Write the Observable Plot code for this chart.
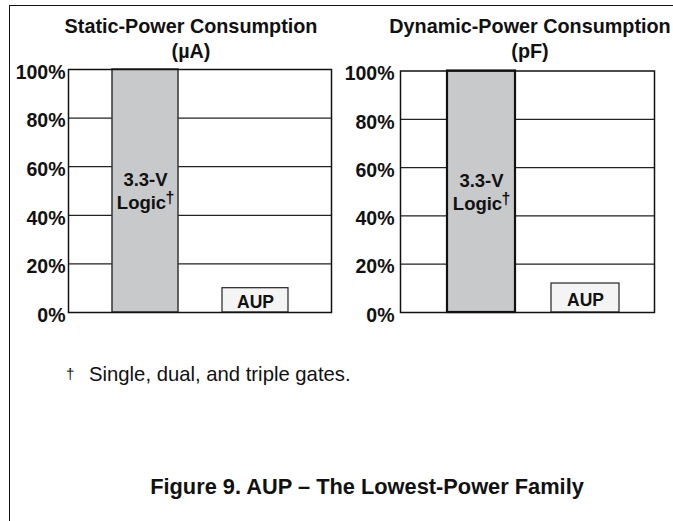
<!DOCTYPE html>
<html><head><meta charset="utf-8">
<script src="https://cdn.jsdelivr.net/npm/d3@7"></script>
<script src="https://cdn.jsdelivr.net/npm/@observablehq/plot@0.6"></script>
<style>
body{margin:0;background:#fff;}
#page{position:relative;width:673px;height:521px;overflow:hidden;font-family:"Liberation Sans",Arial,Helvetica,sans-serif;color:#111;background:#fff}
.border-top{position:absolute;left:9px;top:5px;width:670px;height:0;border-top:1.5px solid #111}
.border-left{position:absolute;left:9px;top:5px;width:0;height:530px;border-left:1.5px solid #111}
.title{position:absolute;top:13.5px;transform:translateX(-50%);white-space:nowrap;font-weight:bold;font-size:19.8px;line-height:25px;text-align:center}
.panel{position:absolute;top:0}
.panel svg{overflow:visible}
.fn-dagger{position:absolute;left:66px;top:366px;font-size:15px;line-height:15px}
.fn-text{position:absolute;left:89px;top:363.5px;font-size:20.3px;line-height:20.3px;white-space:nowrap}
.caption{position:absolute;left:367px;top:475.5px;transform:translateX(-50%);white-space:nowrap;font-weight:bold;font-size:21.8px;line-height:21.8px}
</style></head>
<body><div id="page">
<div class="border-top"></div><div class="border-left"></div>
<div class="title" id="t0" style="left:191px"></div>
<div class="title" id="t1" style="left:530px"></div>
<div class="panel" id="p0" style="left:0px"></div>
<div class="panel" id="p1" style="left:330px"></div>
<div class="fn-dagger">†</div>
<div class="fn-text" id="fn"></div>
<div class="caption" id="cap"></div>
</div>
<script>
const categories = ["3.3-V Logic", "AUP"];
const staticValues = [100, 10];
const dynamicValues = [100, 12];
const panelTitles = ["Static-Power Consumption", "Dynamic-Power Consumption"];
const panelUnits = ["(µA)", "(pF)"];
const yTicks = [0, 20, 40, 60, 80, 100];
const footnote = "Single, dual, and triple gates.";
const caption = "Figure 9. AUP – The Lowest-Power Family";

const FONT = '"Liberation Sans", Arial, Helvetica, sans-serif';

function panel(values, o) {
  const data = categories.map((c, i) => ({category: c, value: values[i]}));
  const [line1, line2] = categories[0].split(" ");
  const main = data.filter(d => d.category === categories[0]);
  const aup = data.filter(d => d.category === categories[1]);
  const mid = d => d.value / 2;
  return Plot.plot({
    width: o.width, height: 330,
    marginLeft: o.marginLeft, marginRight: o.marginRight, marginTop: o.marginTop, marginBottom: 18,
    style: {fontFamily: FONT, background: "transparent", color: "#111"},
    x: {domain: categories, paddingInner: o.paddingInner, paddingOuter: o.paddingOuter, align: o.align, axis: null},
    y: {domain: [0, 100], axis: null},
    marks: [
      Plot.ruleY(yTicks.filter(t => t > 0 && t < 100), {stroke: "#222", strokeWidth: 1.3}),
      Plot.barY(main, {x: "category", y: "value", fill: "#c8c9cb", stroke: o.barStrokeColor, strokeWidth: o.barStroke}),
      Plot.barY(aup, {x: "category", y: "value", fill: "#f4f4f4", stroke: "#222", strokeWidth: 1.2}),
      Plot.frame({stroke: "#111", strokeWidth: 1.5}),
      Plot.axisY({ticks: yTicks, tickFormat: d => `${d}%`, tickSize: 0, tickPadding: o.tickPadding,
        fontSize: 19.5, fontWeight: "bold", fill: "#111", dy: 3, label: null}),
      Plot.text(main, {x: "category", y: mid, text: () => line1, lineAnchor: "bottom", dy: -5, fontSize: 18.5, fontWeight: "bold", fill: "#111"}),
      Plot.text(main, {x: "category", y: mid, text: () => line2, lineAnchor: "bottom", dy: 18, dx: -4, fontSize: 18.5, fontWeight: "bold", fill: "#111"}),
      Plot.text(main, {x: "category", y: mid, text: () => "†", lineAnchor: "bottom", textAnchor: "start", dy: 12, dx: 20, fontSize: 16, fontWeight: "bold", fill: "#111"}),
      Plot.text(aup, {x: "category", y: mid, text: "category", dy: 2, fontSize: 17.5, fontWeight: "bold", fill: "#111"})
    ]
  });
}

document.getElementById("t0").innerHTML = panelTitles[0] + "<br>" + panelUnits[0];
document.getElementById("t1").innerHTML = panelTitles[1] + "<br>" + panelUnits[1];
document.getElementById("fn").textContent = footnote;
document.getElementById("cap").textContent = caption;

document.getElementById("p0").append(panel(staticValues, {
  width: 340, marginLeft: 68, marginRight: 9, marginTop: 69,
  paddingInner: 0.4, paddingOuter: 0.385, align: 0.5, tickPadding: 3,
  barStroke: 1.5, barStrokeColor: "#333"
}));
document.getElementById("p1").append(panel(dynamicValues, {
  width: 343, marginLeft: 70, marginRight: 19, marginTop: 70.5,
  paddingInner: 0.346, paddingOuter: 0.394, align: 0.573, tickPadding: 6,
  barStroke: 2.2, barStrokeColor: "#111"
}));
</script>
</body></html>
